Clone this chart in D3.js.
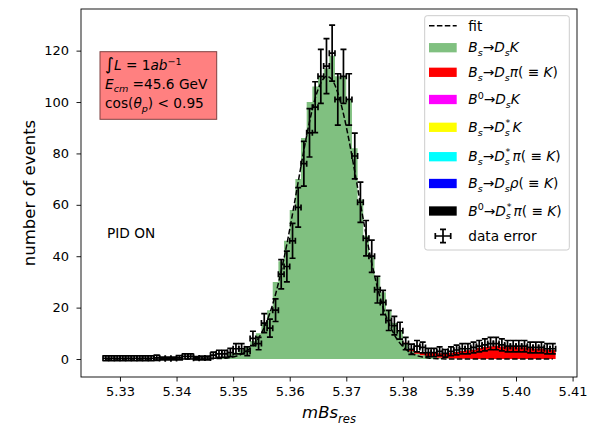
<!DOCTYPE html>
<html lang="en">
<head>
<meta charset="utf-8">
<title>mBs_res fit</title>
<script src="https://cdn.jsdelivr.net/npm/d3@7"></script>
<style>
  body { margin: 0; background: #fff; }
  text { font-family: "DejaVu Sans", sans-serif; fill: #000; }
</style>
</head>
<body>
<svg width="605" height="433"></svg>
<script>
// histogram binning (80 bins of 1 MeV)
const binStart = 5.327;
const binWidth = 0.001;

const xTicks = [5.33, 5.34, 5.35, 5.36, 5.37, 5.38, 5.39, 5.40, 5.41];
const yTicks = [0, 20, 40, 60, 80, 100, 120];

// Bs -> Ds K (green, bottom of the stack)
const bsDsK = [
  0, 0, 0, 0, 0, 0, 0, 0, 0, 0,
  0, 0, 0, 0, 0, 0, 0, 0, 0, 0.3,
  0.7, 1, 2, 2.5, 3.5, 4.5, 7, 10, 14, 19,
  30, 38, 46, 58, 70, 86, 100, 106, 110, 113,
  118, 110, 110, 101, 82, 62, 48, 40, 32, 26,
  19, 14, 11, 6, 3, 2, 1.5, 1, 0.8, 0.5,
  0.3, 0.2, 0.2, 0.1, 0.1, 0, 0, 0, 0, 0,
  0, 0, 0, 0, 0, 0, 0, 0, 0, 0
];

// Bs -> Ds pi (red, stacked on top)
const bsDsPi = [
  0, 0, 0, 0, 0, 0, 0, 0, 0, 0,
  0, 0, 0, 0, 0, 0, 0, 0, 0, 0,
  0, 0, 0, 0, 0, 0, 0, 0, 0, 0,
  0, 0, 0, 0, 0, 0, 0, 0, 0, 0,
  0, 0, 0, 0, 0, 0, 0, 0, 0, 0,
  0, 0, 0, 0.3, 0.5, 0.8, 1, 1.3, 1.5, 1.7,
  2, 2.2, 2.5, 3, 3.3, 3.6, 4.3, 4.7, 5, 5.2,
  4.9, 5, 4.8, 4.6, 4.6, 4.2, 4, 4.1, 3.7, 3.5
];

// pseudo data and its errors
const dataCounts = [
  0.3, 0.3, 0.3, 0.3, 0.3, 0.3, 0.3, 0.3, 0.3, 0.5,
  0.2, 0.2, 0.2, 0.5, 1, 1, 0.3, 0.4, 0.4, 1.5,
  2, 2, 2.5, 4, 4, 3, 8, 6, 14, 12,
  19, 33, 36, 46, 59, 76, 88, 98, 110, 114,
  119, 101, 110, 101, 79, 61, 47, 40, 27, 22,
  15, 13, 11, 6, 3.8, 5, 4.5, 2.5, 2.5, 3,
  2.2, 3, 3.5, 4, 4, 4.5, 5, 5.5, 6, 6,
  5.5, 5, 5, 5, 5, 4.5, 4.5, 4.5, 4, 4
];
const dataErr = [
  0.9, 0.9, 0.9, 0.9, 0.9, 0.9, 0.9, 0.9, 0.9, 1.0,
  0.5, 0.5, 0.5, 0.8, 1.0, 1.0, 0.6, 0.7, 0.7, 1.2,
  1.4, 1.4, 1.6, 2.0, 2.0, 1.7, 2.8, 2.4, 3.7, 3.5,
  4.4, 5.7, 6.0, 6.8, 7.7, 8.7, 9.4, 9.9, 10.5, 10.7,
  10.9, 10.0, 10.5, 10.0, 8.9, 7.8, 6.9, 6.3, 5.2, 4.7,
  3.9, 3.6, 3.3, 2.4, 2.0, 2.2, 2.1, 1.6, 1.6, 1.7,
  1.5, 1.7, 1.9, 2.0, 2.0, 2.1, 2.2, 2.3, 2.4, 2.4,
  2.3, 2.2, 2.2, 2.2, 2.2, 2.1, 2.1, 2.1, 2.0, 2.0
];

// fit curve read at bin centres
const fitValues = [
  0, 0, 0, 0, 0, 0, 0, 0, 0, 0,
  0, 0, 0, 0, 0, 0, 0, 0, 0, 0.1,
  0.2, 0.3, 0.6, 1.1, 1.9, 3.3, 5.2, 8.2, 12.3, 17.9,
  25.2, 34.2, 44.7, 56.5, 68.9, 81.2, 92.3, 101.4, 107.4, 110,
  108.6, 103.6, 95.4, 84.9, 72.9, 60.4, 48.4, 37.3, 27.9, 20.1,
  14.0, 9.4, 6.1, 3.8, 2.3, 1.3, 0.75, 0.4, 0.2, 0.1,
  0, 0, 0, 0, 0, 0, 0, 0, 0, 0,
  0, 0, 0, 0, 0, 0, 0, 0, 0, 0
];

const legendNames = ["fit", "B_s→D_sK", "B_s→D_sπ( ≡ K)", "B^0→D_sK", "B_s→D_s^*K",
  "B_s→D_s^*π( ≡ K)", "B_s→D_sρ( ≡ K)", "B^0→D_s^*π( ≡ K)", "data error"];
const legendColors = [null, "#80c080", "#ff0000", "#ff00ff", "#ffff00",
  "#00ffff", "#0000ff", "#000000", null];

// ---------------- layout
const svg = d3.select("svg");
const pLeft = 81, pRight = 577, pTop = 9, pBottom = 377;

const x = d3.scaleLinear().domain([5.32311, 5.41078]).range([pLeft, pRight]);
const y = d3.scaleLinear().domain([-7.0, 136.2]).range([pBottom, pTop]);

const bins = bsDsK.map((g, i) => ({
  lo: binStart + i * binWidth,
  mid: binStart + (i + 0.5) * binWidth,
  g: g,
  r: bsDsPi[i],
  d: dataCounts[i],
  e: dataErr[i],
  f: fitValues[i]
}));
// extra point so the last step closes at the upper edge
const steps = bins.concat([Object.assign({}, bins[bins.length - 1], {lo: binStart + bins.length * binWidth})]);

const plot = svg.append("g");

plot.append("path")
  .datum(steps)
  .attr("fill", "#80c080")
  .attr("d", d3.area().curve(d3.curveStepAfter)
    .x(d => x(d.lo)).y0(y(0)).y1(d => y(d.g)));

plot.append("path")
  .datum(steps)
  .attr("fill", "#ff0000")
  .attr("d", d3.area().curve(d3.curveStepAfter)
    .defined(d => d.r > 0)
    .x(d => x(d.lo)).y0(d => y(d.g)).y1(d => y(d.g + d.r)));

plot.append("path")
  .datum(bins)
  .attr("fill", "none")
  .attr("stroke", "#000")
  .attr("stroke-width", 1.5)
  .attr("stroke-dasharray", "5.5,2.4")
  .attr("d", d3.line().curve(d3.curveMonotoneX).x(d => x(d.mid)).y(d => y(d.f)));

// error bars (x error = half a bin)
const cap = 3;
const eb = plot.append("g").attr("stroke", "#000").attr("stroke-width", 1.7).attr("fill", "none");
bins.forEach(b => {
  const cx = x(b.mid), cy = y(b.d);
  const yt = y(b.d + b.e), yb = y(b.d - b.e);
  const xl = x(b.mid - binWidth / 2), xr = x(b.mid + binWidth / 2);
  eb.append("path").attr("d",
    `M${cx},${yb}V${yt}` +
    `M${cx - cap},${yt}H${cx + cap}M${cx - cap},${yb}H${cx + cap}` +
    `M${xl},${cy}H${xr}` +
    `M${xl},${cy - cap}V${cy + cap}M${xr},${cy - cap}V${cy + cap}`);
});

// ---------------- axes
const xAxis = svg.append("g").attr("transform", `translate(0,${pBottom})`)
  .call(d3.axisBottom(x).tickValues(xTicks).tickFormat(d3.format(".2f"))
    .tickSize(4.5).tickSizeOuter(0).tickPadding(5.5));
const yAxis = svg.append("g").attr("transform", `translate(${pLeft},0)`)
  .call(d3.axisLeft(y).tickValues(yTicks).tickSize(4.5).tickSizeOuter(0).tickPadding(7.5));
[xAxis, yAxis].forEach(a => {
  a.select(".domain").remove();
  a.selectAll("text").attr("font-size", 13).attr("font-family", "DejaVu Sans").attr("fill", "#000");
  a.selectAll("line").attr("stroke", "#000").attr("stroke-width", 0.9);
});

svg.append("rect")
  .attr("x", pLeft).attr("y", pTop)
  .attr("width", pRight - pLeft).attr("height", pBottom - pTop)
  .attr("fill", "none").attr("stroke", "#000").attr("stroke-width", 0.9);

// ---------------- text helpers
function richText(g, x0, y0, parts, size, anchor) {
  const t = g.append("text").attr("x", x0).attr("y", y0)
    .attr("font-size", size).attr("text-anchor", anchor || "start");
  let shift = 0, afterStar = false;
  parts.forEach(([s, kind]) => {
    let target = 0, fs = size, italic = false, dx = 0;
    if (kind === "i") italic = true;
    if (kind === "big") fs = size * 1.25;
    if (kind === "sub") { target = size * 0.28; fs = size * 0.7; italic = true; }
    if (kind === "sup") { target = -size * 0.4; fs = size * 0.7; }
    if (kind === "star") { target = -size * 0.42; fs = size * 0.7; dx = -size * 0.3; }
    if (afterStar) dx += size * 0.15;
    const ts = t.append("tspan").attr("dy", target - shift).attr("font-size", fs).text(s);
    if (italic) ts.attr("font-style", "italic");
    if (dx) ts.attr("dx", dx);
    shift = target;
    afterStar = kind === "star";
  });
  return t;
}

function parseMath(str) {
  const parts = [];
  let i = 0, prev = null;
  while (i < str.length) {
    const c = str[i];
    if (c === "_" || c === "^") {
      const arg = str[i + 1];
      i += 2;
      const kind = c === "_" ? "sub" : (prev === "sub" ? "star" : "sup");
      parts.push([arg, kind]);
      prev = kind;
      continue;
    }
    parts.push([c, /[A-Za-zα-ω]/.test(c) ? "i" : "r"]);
    prev = "r";
    i++;
  }
  return parts;
}

// axis labels
richText(svg, 329, 418, [["mBs", "i"], ["res", "sub"]], 16.5, "middle");
svg.append("text")
  .attr("transform", "translate(35,193) rotate(-90)")
  .attr("text-anchor", "middle").attr("font-size", 16.5)
  .text("number of events");

// info box
const box = svg.append("g");
box.append("rect").attr("x", 100).attr("y", 51.7).attr("width", 116.7).attr("height", 67.6)
  .attr("fill", "#ff8080").attr("stroke", "#7f4040").attr("stroke-width", 1);
richText(box, 105, 70, [["∫", "big"], ["L", "i"], [" = 1", "r"], ["ab", "i"], ["−1", "sup"]], 13.7);
richText(box, 105, 88.5, [["E", "i"], ["cm", "sub"], [" =45.6 GeV", "r"]], 13.7);
richText(box, 105, 108, [["cos(", "r"], ["θ", "i"], ["p", "sub"], [") < 0.95", "r"]], 13.7);

svg.append("text").attr("x", 107).attr("y", 237.5).attr("font-size", 13.7).text("PID ON");

// ---------------- legend
const legendRowY = [25.7, 47.7, 72.3, 99.5, 127.3, 156.7, 183.5, 211, 236];
const lg = svg.append("g");
lg.append("rect").attr("x", 424.7).attr("y", 15.7).attr("width", 144.6).attr("height", 234.3)
  .attr("rx", 2.5).attr("fill", "#fff").attr("fill-opacity", 0.8)
  .attr("stroke", "#cccccc").attr("stroke-width", 1);

legendNames.forEach((name, i) => {
  const cy = legendRowY[i];
  if (i === 0) {
    lg.append("line").attr("x1", 429).attr("x2", 456.7).attr("y1", cy).attr("y2", cy)
      .attr("stroke", "#000").attr("stroke-width", 1.5).attr("stroke-dasharray", "5.5,2.4");
    lg.append("text").attr("x", 468.3).attr("y", cy + 5).attr("font-size", 13.7).text(name);
  } else if (i === legendNames.length - 1) {
    const cx = 443;
    lg.append("path").attr("stroke", "#000").attr("stroke-width", 1.7).attr("fill", "none")
      .attr("d", `M${cx},${cy - 6.7}V${cy + 6.7}M${cx - cap},${cy - 6.7}H${cx + cap}` +
        `M${cx - cap},${cy + 6.7}H${cx + cap}M${cx - 7.7},${cy}H${cx + 7.7}` +
        `M${cx - 7.7},${cy - cap}V${cy + cap}M${cx + 7.7},${cy - cap}V${cy + cap}`);
    lg.append("text").attr("x", 468.3).attr("y", cy + 5).attr("font-size", 13.7).text(name);
  } else {
    lg.append("rect").attr("x", 429).attr("y", cy - 4.65).attr("width", 27.7).attr("height", 9.3)
      .attr("fill", legendColors[i]);
    richText(lg, 468.3, cy + 4.5, parseMath(name), 13.7);
  }
});
</script>
</body>
</html>
